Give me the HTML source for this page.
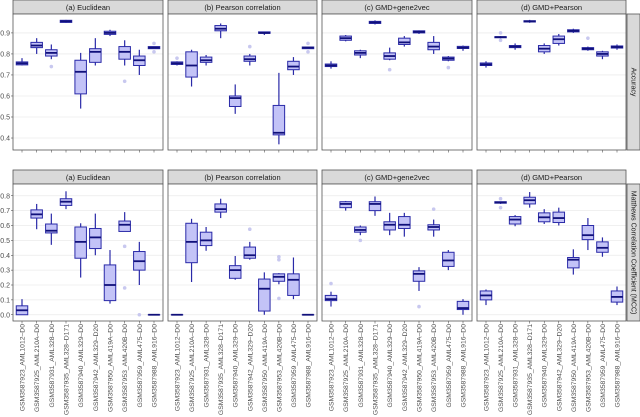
<!DOCTYPE html>
<html><head><meta charset="utf-8"><style>
body{margin:0;background:#fff;}
svg{display:block;font-family:"Liberation Sans",sans-serif;}
</style></head><body>
<svg id="c" width="640" height="417"></svg>
<script>
const categories=["GSM3587923_AML1012\u2013D0","GSM3587925_AML210A\u2013D0","GSM3587931_AML328\u2013D0","GSM3587935_AML328\u2013D171","GSM3587940_AML329\u2013D0","GSM3587942_AML329\u2013D20","GSM3587950_AML419A\u2013D0","GSM3587953_AML420B\u2013D0","GSM3587959_AML475\u2013D0","GSM3587988_AML916\u2013D0"];
const methods=["(a) Euclidean","(b) Pearson correlation","(c) GMD+gene2vec","(d) GMD+Pearson"];
const accTicks=[0.4,0.5,0.6,0.7,0.8,0.9];
const mccTicks=[0.0,0.1,0.2,0.3,0.4,0.5,0.6,0.7,0.8];
// each box: [whiskerLow, q1, median, q3, whiskerHigh, outliers]
const accEuclidean=[[0.745,0.748,0.755,0.762,0.78,[]],[0.80,0.83,0.84,0.855,0.875,[]],[0.775,0.79,0.805,0.82,0.845,[0.74]],[0.948,0.95,0.955,0.96,0.962,[]],[0.54,0.61,0.715,0.77,0.805,[]],[0.745,0.76,0.81,0.825,0.875,[]],[0.885,0.893,0.90,0.908,0.915,[]],[0.745,0.775,0.81,0.835,0.865,[0.67]],[0.70,0.745,0.77,0.79,0.82,[]],[0.825,0.825,0.83,0.835,0.835,[0.81,0.85]]];
const accPearson=[[0.745,0.75,0.755,0.762,0.765,[0.78]],[0.645,0.69,0.745,0.81,0.82,[]],[0.745,0.76,0.77,0.785,0.795,[]],[0.875,0.91,0.92,0.935,0.945,[]],[0.515,0.55,0.59,0.60,0.655,[]],[0.745,0.765,0.775,0.79,0.80,[0.835]],[0.89,0.898,0.90,0.905,0.905,[]],[0.37,0.415,0.425,0.555,0.71,[]],[0.70,0.725,0.74,0.765,0.785,[]],[0.825,0.825,0.83,0.833,0.833,[0.81,0.85]]];
const accGene2vec=[[0.73,0.74,0.745,0.752,0.765,[]],[0.86,0.865,0.875,0.885,0.89,[]],[0.78,0.795,0.805,0.815,0.82,[]],[0.94,0.945,0.95,0.955,0.96,[]],[0.77,0.775,0.79,0.805,0.83,[0.725]],[0.835,0.845,0.855,0.875,0.885,[]],[0.895,0.90,0.905,0.91,0.912,[]],[0.80,0.82,0.835,0.855,0.885,[]],[0.765,0.77,0.778,0.785,0.79,[0.735]],[0.815,0.826,0.83,0.836,0.84,[]]];
const accGmdPearson=[[0.735,0.745,0.75,0.757,0.765,[]],[0.875,0.877,0.88,0.882,0.885,[0.9,0.865]],[0.82,0.83,0.835,0.84,0.85,[]],[0.948,0.952,0.955,0.958,0.962,[]],[0.80,0.81,0.825,0.84,0.85,[]],[0.84,0.85,0.87,0.885,0.895,[]],[0.90,0.905,0.91,0.915,0.92,[]],[0.815,0.82,0.825,0.83,0.835,[0.875]],[0.775,0.79,0.80,0.81,0.815,[]],[0.82,0.828,0.833,0.838,0.845,[]]];
const mccEuclidean=[[0,0,0.03,0.06,0.105,[]],[0.575,0.65,0.675,0.705,0.745,[]],[0.47,0.55,0.565,0.61,0.68,[]],[0.71,0.735,0.76,0.78,0.83,[]],[0.25,0.38,0.49,0.59,0.615,[]],[0.40,0.445,0.52,0.58,0.68,[]],[0.075,0.095,0.20,0.335,0.435,[]],[0.56,0.56,0.605,0.63,0.69,[0.46,0.18]],[0.20,0.30,0.36,0.425,0.49,[0.0]],[0,0,0,0,0,[]]];
const mccPearson=[[0,0,0,0,0,[]],[0.22,0.35,0.49,0.615,0.645,[]],[0.43,0.465,0.50,0.555,0.59,[]],[0.65,0.69,0.71,0.745,0.78,[]],[0.235,0.245,0.30,0.33,0.395,[]],[0.37,0.38,0.40,0.455,0.49,[0.575]],[0.0,0.025,0.175,0.24,0.285,[]],[0.205,0.225,0.255,0.275,0.28,[0.39,0.37,0.11]],[0.105,0.13,0.235,0.275,0.385,[]],[0,0,0,0,0,[]]];
const mccGene2vec=[[0.055,0.095,0.105,0.13,0.155,[0.21]],[0.70,0.72,0.745,0.76,0.765,[]],[0.535,0.555,0.57,0.59,0.60,[0.5]],[0.665,0.70,0.745,0.76,0.795,[]],[0.535,0.57,0.605,0.625,0.685,[]],[0.525,0.58,0.605,0.66,0.685,[]],[0.16,0.225,0.275,0.295,0.32,[0.055]],[0.525,0.57,0.59,0.605,0.64,[0.71]],[0.30,0.325,0.365,0.42,0.435,[]],[0.0,0.035,0.045,0.09,0.105,[]]];
const mccGmdPearson=[[0.065,0.10,0.13,0.16,0.17,[]],[0.745,0.75,0.755,0.76,0.76,[0.78,0.72]],[0.595,0.61,0.64,0.66,0.67,[]],[0.72,0.745,0.77,0.79,0.825,[]],[0.61,0.625,0.655,0.685,0.71,[]],[0.60,0.62,0.65,0.69,0.72,[]],[0.27,0.315,0.37,0.385,0.44,[]],[0.435,0.505,0.535,0.60,0.65,[]],[0.39,0.42,0.45,0.49,0.52,[]],[0.065,0.085,0.12,0.16,0.19,[]]];

const NS="http://www.w3.org/2000/svg";
const svg=document.getElementById('c');
function mk(tag,attrs,parent){const e=document.createElementNS(NS,tag);for(const k in attrs)e.setAttribute(k,attrs[k]);(parent||svg).appendChild(e);return e;}
const panelX=[[13,163],[168,317],[322,472],[477,626]];
const rows=[
 {top:14,bot:150,vmin:0.343,vmax:0.99,ticks:accTicks,data:[accEuclidean,accPearson,accGene2vec,accGmdPearson],strip:0,label:"Accuracy",name:"accuracy"},
 {top:184,bot:321,vmin:-0.042,vmax:0.879,ticks:mccTicks,data:[mccEuclidean,mccPearson,mccGene2vec,mccGmdPearson],strip:170,label:"Matthews Correlation Coefficient (MCC)",name:"mcc"}
];
rows.forEach((r,ri)=>{
 const y=v=>r.bot-(v-r.vmin)/(r.vmax-r.vmin)*(r.bot-r.top);
 // y tick labels
 r.ticks.forEach(t=>{
  const tx=mk('text',{x:10,y:y(t)+2.5,'text-anchor':'end','font-size':7,fill:'#4d4d4d'});
  
  
  tx.textContent=t.toFixed(1);
  mk('line',{x1:11,x2:13,y1:y(t),y2:y(t),stroke:'#333','stroke-width':0.5});
 });
 panelX.forEach((px,pi)=>{
  const g=mk('g',{});
  
  
  const [L,R]=px;
  const sr=mk('rect',{x:L,y:r.strip,width:R-L,height:r.top-r.strip,fill:'#d9d9d9',stroke:'#555','stroke-width':0.8},g);
  
  
  const st=mk('text',{x:(L+R)/2,y:r.strip+10,'text-anchor':'middle','font-size':7.5,fill:'#1a1a1a'},g);
  
  
  st.textContent=methods[pi];
  mk('rect',{x:L,y:r.top,width:R-L,height:r.bot-r.top,fill:'#fff'},g);
  r.ticks.forEach(t=>mk('line',{x1:L,x2:R,y1:y(t),y2:y(t),stroke:'#ebebeb','stroke-width':0.8},g));
  const xc=i=>L+9+i*(R-L-18)/9;
  categories.forEach((c,i)=>{
   const d=r.data[pi][i];const cx=xc(i);const w=11.5;
   mk('line',{x1:cx,x2:cx,y1:r.bot,y2:r.bot+2.5,stroke:'#333','stroke-width':0.5},g);
   const b=mk('g',{},g);
   
   
   mk('line',{x1:cx,x2:cx,y1:y(d[0]),y2:y(d[4]),stroke:'#2a2aa8','stroke-width':1.2},b);
   mk('rect',{x:cx-w/2,y:y(d[3]),width:w,height:Math.max(0.1,y(d[1])-y(d[3])),fill:'#c3c3f7',stroke:'#2a2aa8','stroke-width':1},b);
   mk('line',{x1:cx-w/2,x2:cx+w/2,y1:y(d[2]),y2:y(d[2]),stroke:'#10107a','stroke-width':1.8},b);
   d[5].forEach(o=>{const p=mk('circle',{cx:cx,cy:y(o),r:1.8,fill:'#c8c8ef'},b);
    
    });
   if(ri===1){
    const lx=cx+2.5,ly=r.bot+3;
    const t=mk('text',{x:lx,y:ly,'text-anchor':'end','font-size':6.8,fill:'#4d4d4d',transform:`rotate(-90 ${lx} ${ly})`},g);
    
    
    t.textContent=c;
   }
  });
  mk('rect',{x:L,y:r.top,width:R-L,height:r.bot-r.top,fill:'none',stroke:'#555','stroke-width':0.8},g);
 });
 const rs=mk('rect',{x:627,y:r.top,width:13,height:r.bot-r.top,fill:'#d9d9d9',stroke:'#555','stroke-width':0.8});
 
 
 const cx=633.5,cy=(r.top+r.bot)/2;
 const rt=mk('text',{x:cx,y:cy,'text-anchor':'middle','dominant-baseline':'middle','font-size':7,fill:'#1a1a1a',transform:`rotate(90 ${cx} ${cy})`});
 
 
 rt.textContent=r.label;
});
</script>
</body></html>
